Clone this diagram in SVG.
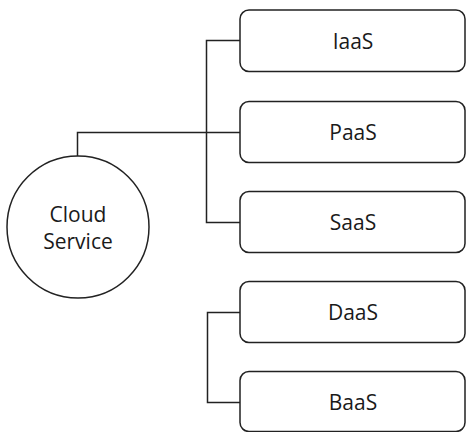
<svg xmlns="http://www.w3.org/2000/svg" width="466" height="432" viewBox="0 0 466 432">
<style>
.box{fill:#fff;stroke:#222;stroke-width:1.5}
.lbl{font-family:"Open Sans","Noto Sans",sans-serif;font-size:21px;fill:#1a1a1a;text-anchor:middle}
.con{fill:none;stroke:#222;stroke-width:1.5}
</style>
<rect width="466" height="432" fill="#fff"/>
<g id="connectors">
<path class="con" d="M77.5 156 V132.5 H240"/>
<path class="con" d="M240 40.5 H206.5 V222.5 H240"/>
<path class="con" d="M240 312.5 H207.5 V402.5 H240"/>
</g>
<g id="cloud">
<circle class="box" cx="78" cy="227" r="71"/>
<text class="lbl" x="78" y="222">Cloud</text>
<text class="lbl" x="78" y="249">Service</text>
</g>
<g id="iaas">
<rect class="box" x="240" y="10" width="225" height="61.5" rx="9"/>
<text class="lbl" x="353" y="48.5">IaaS</text>
</g>
<g id="paas">
<rect class="box" x="240" y="101.5" width="225" height="61" rx="9"/>
<text class="lbl" x="353" y="140">PaaS</text>
</g>
<g id="saas">
<rect class="box" x="240" y="191.5" width="225" height="61" rx="9"/>
<text class="lbl" x="353" y="230">SaaS</text>
</g>
<g id="daas">
<rect class="box" x="240" y="281.5" width="225" height="61" rx="9"/>
<text class="lbl" x="353" y="320">DaaS</text>
</g>
<g id="baas">
<rect class="box" x="240" y="371.5" width="225" height="60" rx="9"/>
<text class="lbl" x="353" y="410">BaaS</text>
</g>
</svg>
